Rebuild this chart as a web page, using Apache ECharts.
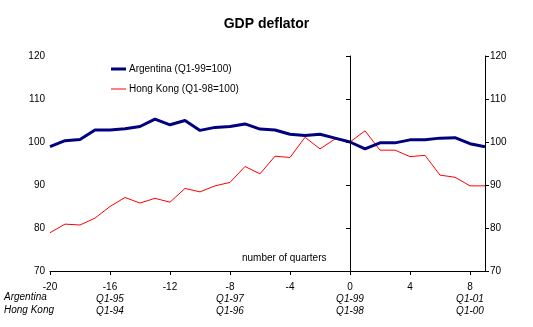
<!DOCTYPE html>
<html>
<head>
<meta charset="utf-8">
<script src="https://cdn.jsdelivr.net/npm/echarts@6/dist/echarts.min.js"></script>
<style>
html,body{margin:0;padding:0;background:#fff;}
#chart{width:533px;height:327px;}
</style>
</head>
<body>
<div id="chart"></div>
<script>
// Data
const quarters = [-20,-19,-18,-17,-16,-15,-14,-13,-12,-11,-10,-9,-8,-7,-6,-5,-4,-3,-2,-1,0,1,2,3,4,5,6,7,8,9];
const argentina = [98.9,100.3,100.6,102.8,102.8,103.1,103.6,105.3,104.0,105.0,102.7,103.4,103.6,104.2,103.0,102.8,101.8,101.5,101.8,100.9,100.0,98.4,99.8,99.8,100.5,100.5,100.9,101.0,99.6,98.9];
const hongKong = [78.9,80.9,80.7,82.3,85.0,87.1,85.8,86.9,86.0,89.2,88.4,89.8,90.6,94.3,92.6,96.7,96.4,101.1,98.4,100.7,100.0,102.6,98.1,98.1,96.6,96.9,92.3,91.8,89.8,89.8];
const labelQuarters = [-16,-8,0,8];
const argentinaLabels = ['Q1-95','Q1-97','Q1-99','Q1-01'];
const hongKongLabels = ['Q1-94','Q1-96','Q1-98','Q1-00'];
const seriesNames = ['Argentina (Q1-99=100)','Hong Kong (Q1-98=100)'];
const rowNames = ['Argentina','Hong Kong'];
const markerQuarter = 0;
const markerRange = [71.8, 119.1];

const FONT = 'Arial, "Liberation Sans", sans-serif';
const chart = echarts.init(document.getElementById('chart'), null, {renderer:'canvas'});

const yAxisCommon = {
  type:'value', min:70, max:120, interval:10,
  splitLine:{show:false},
  axisLine:{show:true, lineStyle:{color:'#000', width:1}},
  axisTick:{show:true, length:4, lineStyle:{color:'#000'}},
  axisLabel:{color:'#000', fontSize:10, fontFamily:FONT, margin:5}
};

chart.setOption({
  animation:false,
  backgroundColor:'#fff',
  title:{text:'GDP deflator', left:'center', top:12,
    textStyle:{fontSize:14, fontWeight:'bold', color:'#000', fontFamily:FONT}},
  grid:{left:50, right:48, top:56, bottom:56, containLabel:false},
  legend:[
    {data:[{name:seriesNames[0], icon:'rect'}], left:106, top:59, itemWidth:15, itemHeight:3, itemGap:0,
      textStyle:{fontSize:10, color:'#000', fontFamily:FONT, padding:[0,0,0,-2]}},
    {data:[{name:seriesNames[1], icon:'rect'}], left:106, top:79, itemWidth:15, itemHeight:1, itemGap:0,
      textStyle:{fontSize:10, color:'#000', fontFamily:FONT, padding:[0,0,0,-2]}}
  ],
  xAxis:{
    type:'value', min:-20, max:9, interval:4,
    splitLine:{show:false},
    axisLine:{onZero:false, lineStyle:{color:'#000', width:1}},
    axisTick:{length:4, lineStyle:{color:'#000'}},
    axisLabel:{
      showMaxLabel:false, margin:10, color:'#000', fontFamily:FONT,
      formatter:function(v){
        if (v > 8) return '';
        const i = labelQuarters.indexOf(v);
        if (i < 0) return '{n|' + v + '}';
        return '{n|' + v + '}\n{q|' + argentinaLabels[i] + '}\n{q|' + hongKongLabels[i] + '}';
      },
      rich:{
        n:{fontSize:10, lineHeight:12, fontFamily:FONT, color:'#000'},
        q:{fontSize:10, lineHeight:12, fontStyle:'italic', fontFamily:FONT, color:'#000'}
      }
    }
  },
  yAxis:[
    Object.assign({}, yAxisCommon, {position:'left'}),
    Object.assign({}, yAxisCommon, {position:'right'})
  ],
  graphic:[
    {type:'text', left:4, top:292, style:{text:rowNames[0], fontSize:10, fontStyle:'italic', fontFamily:FONT, fill:'#000'}},
    {type:'text', left:4, top:305, style:{text:rowNames[1], fontSize:10, fontStyle:'italic', fontFamily:FONT, fill:'#000'}},
    {type:'text', left:242, top:253, style:{text:'number of quarters', fontSize:10, fontFamily:FONT, fill:'#000'}}
  ],
  series:[
    {
      name:seriesNames[1], type:'line', data:quarters.map((q,i)=>[q,hongKong[i]]),
      showSymbol:false, symbol:'none', color:'#ff0000',
      lineStyle:{color:'#ff0000', width:1}, z:2,
      markLine:{silent:true, symbol:'none', label:{show:false},
        lineStyle:{color:'#000', width:1, type:'solid'},
        data:[[{coord:[markerQuarter, markerRange[1]]},{coord:[markerQuarter, markerRange[0]]}]]}
    },
    {
      name:seriesNames[0], type:'line', data:quarters.map((q,i)=>[q,argentina[i]]),
      showSymbol:false, symbol:'none', color:'#000080',
      lineStyle:{color:'#000080', width:3}, z:3
    }
  ]
});
</script>
</body>
</html>
